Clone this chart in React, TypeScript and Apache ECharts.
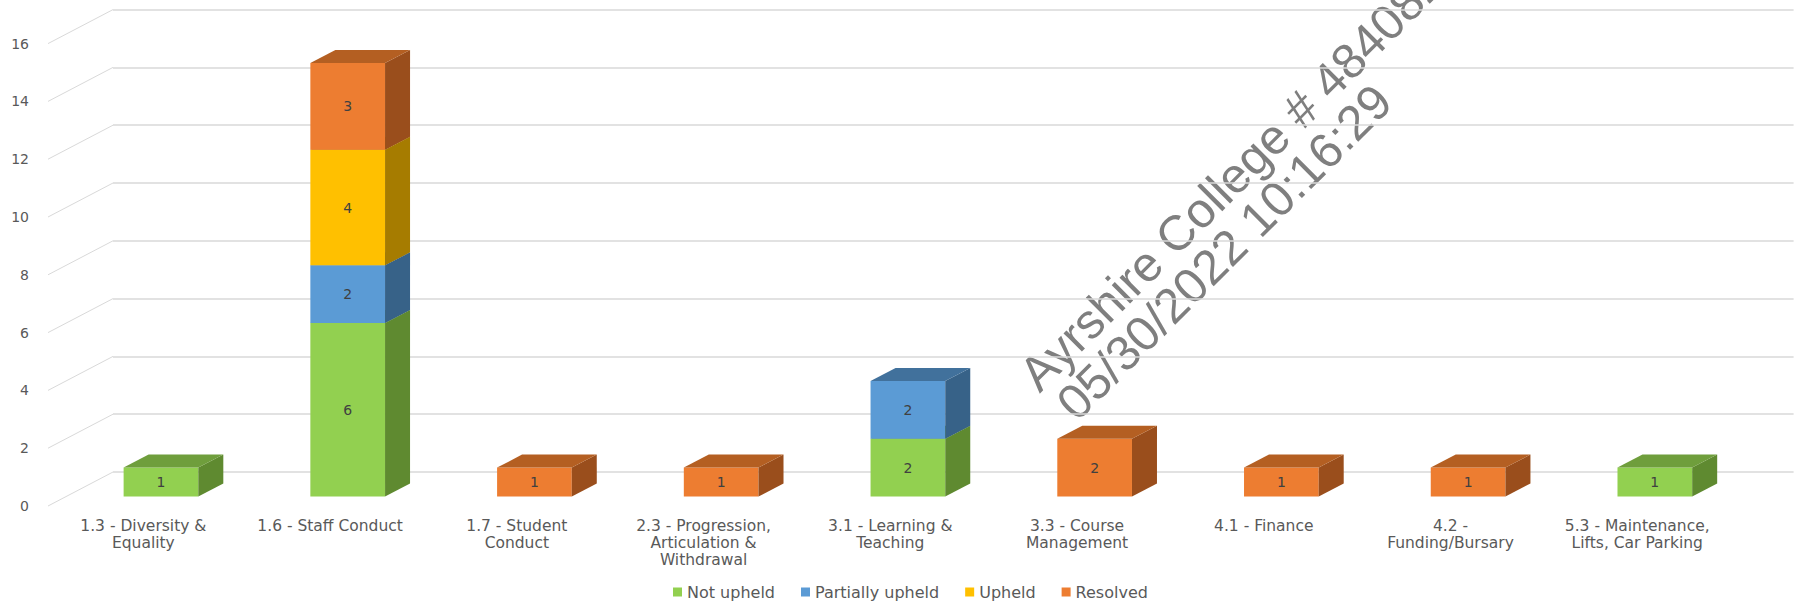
import React, { useEffect, useRef } from "react";
import * as echarts from "echarts";

// Complaint categories (line breaks follow the printed wrapping)
const categories = [
  "1.3 - Diversity &\nEquality",
  "1.6 - Staff Conduct",
  "1.7 - Student\nConduct",
  "2.3 - Progression,\nArticulation &\nWithdrawal",
  "3.1 - Learning &\nTeaching",
  "3.3 - Course\nManagement",
  "4.1 - Finance",
  "4.2 -\nFunding/Bursary",
  "5.3 - Maintenance,\nLifts, Car Parking",
];

const notUpheld = [1, 6, 0, 0, 2, 0, 0, 0, 1];
const partiallyUpheld = [0, 2, 0, 0, 2, 0, 0, 0, 0];
const upheld = [0, 4, 0, 0, 0, 0, 0, 0, 0];
const resolved = [0, 3, 1, 1, 0, 2, 1, 1, 0];

const yTicks = [0, 2, 4, 6, 8, 10, 12, 14, 16];

const watermarkLines = ["Ayrshire College # 484082", "05/30/2022 10:16:29"];

const FONT = "DejaVu Sans";
const WATERMARK_FONT = "Liberation Sans";
const GRID_LINE = "#d9d9d9";
const TEXT = "#595959";

// Oblique depth of the chart walls, in pixels
const WALL_DX = 63;
const WALL_DY = -34;
// Position of the bar front face inside the depth, and depth of each box
const FRONT_SHIFT_X = 17.6;
const FRONT_SHIFT_Y = -9.5;
const BOX_DX = 25;
const BOX_DY = -13;
const BAR_RATIO = 0.4;

type Palette = { front: string; side: string; top: string };

const seriesDefs: { name: string; values: number[]; palette: Palette }[] = [
  { name: "Not upheld", values: notUpheld, palette: { front: "#92D050", side: "#5F8A30", top: "#6F9E3C" } },
  { name: "Partially upheld", values: partiallyUpheld, palette: { front: "#5B9BD5", side: "#376288", top: "#41719C" } },
  { name: "Upheld", values: upheld, palette: { front: "#FFC000", side: "#A67C00", top: "#BF9000" } },
  { name: "Resolved", values: resolved, palette: { front: "#ED7D31", side: "#9A4E1C", top: "#B45F22" } },
];

function boxRenderer(palette: Palette) {
  return (_params: any, api: any) => {
    const idx = api.value(0);
    const base = api.value(1);
    const val = api.value(2);
    if (!val) return null;
    const p0 = api.coord([idx, base]);
    const p1 = api.coord([idx, base + val]);
    const band = api.size([1, 0])[0];
    const w = band * BAR_RATIO;
    const x1 = p0[0] - w / 2 + FRONT_SHIFT_X;
    const x2 = x1 + w;
    const yb = p0[1] + FRONT_SHIFT_Y;
    const yt = p1[1] + FRONT_SHIFT_Y;
    return {
      type: "group",
      children: [
        {
          type: "rect",
          shape: { x: x1, y: yt, width: w, height: yb - yt },
          style: { fill: palette.front },
        },
        {
          type: "polygon",
          shape: {
            points: [
              [x2, yb],
              [x2 + BOX_DX, yb + BOX_DY],
              [x2 + BOX_DX, yt + BOX_DY],
              [x2, yt],
            ],
          },
          style: { fill: palette.side },
        },
        {
          type: "polygon",
          shape: {
            points: [
              [x1, yt],
              [x2, yt],
              [x2 + BOX_DX, yt + BOX_DY],
              [x1 + BOX_DX, yt + BOX_DY],
            ],
          },
          style: { fill: palette.top },
        },
        {
          type: "text",
          style: {
            text: String(val),
            x: (x1 + x2) / 2,
            y: (yt + yb) / 2,
            align: "center",
            verticalAlign: "middle",
            fill: "#404040",
            fontSize: 14,
            fontFamily: FONT,
          },
        },
      ],
    };
  };
}

function wallRenderer(_params: any, api: any) {
  const p = api.coord([0, api.value(1)]);
  const band = api.size([1, 0])[0];
  const x = p[0] - band / 2;
  return {
    type: "line",
    shape: { x1: x - 2, y1: p[1], x2: x + WALL_DX, y2: p[1] + WALL_DY },
    style: { stroke: GRID_LINE, lineWidth: 1 },
  };
}

export default function App() {
  const ref = useRef<HTMLDivElement>(null);

  useEffect(() => {
    if (!ref.current) return;
    const chart = echarts.init(ref.current, undefined, { renderer: "svg" });

    const stackBase = categories.map(() => 0);
    const barSeries = seriesDefs.map((def) => {
      const data = def.values.map((v, i) => {
        const item = [i, stackBase[i], v];
        stackBase[i] += v;
        return item;
      });
      return {
        type: "custom",
        name: def.name,
        xAxisIndex: 0,
        yAxisIndex: 0,
        encode: { x: 0, y: 1 },
        itemStyle: { color: def.palette.front },
        renderItem: boxRenderer(def.palette),
        data,
        z: 3,
      };
    });

    chart.setOption({
      animation: false,
      backgroundColor: "#ffffff",
      textStyle: { fontFamily: FONT },
      legend: {
        data: seriesDefs.map((d) => d.name),
        left: 673,
        top: 584,
        padding: 0,
        icon: "rect",
        itemWidth: 9,
        itemHeight: 9,
        itemGap: 26,
        textStyle: { color: TEXT, fontSize: 16, fontFamily: FONT },
      },
      grid: [
        // front plane: axes, labels and bars
        { left: 50, right: 67.4, top: 43.6, bottom: 95 },
        // back wall: horizontal gridlines
        { left: 113, right: 4.4, top: 9.6, bottom: 129 },
      ],
      xAxis: [
        {
          type: "category",
          gridIndex: 0,
          data: categories,
          axisLine: { show: false },
          axisTick: { show: false },
          splitLine: { show: false },
          axisLabel: {
            interval: 0,
            margin: 11,
            color: TEXT,
            fontSize: 15.5,
            lineHeight: 17,
            fontFamily: FONT,
          },
        },
        { type: "value", gridIndex: 1, min: 0, max: 1, show: false },
      ],
      yAxis: [
        {
          type: "value",
          gridIndex: 0,
          min: 0,
          max: 16,
          interval: 2,
          axisLine: { show: false },
          axisTick: { show: false },
          splitLine: { show: false },
          axisLabel: { color: TEXT, fontSize: 14, margin: 21, fontFamily: FONT },
        },
        {
          type: "value",
          gridIndex: 1,
          min: 0,
          max: 16,
          interval: 2,
          axisLine: { show: false },
          axisTick: { show: false },
          axisLabel: { show: false },
          splitLine: { lineStyle: { color: GRID_LINE, width: 1.5 } },
        },
      ],
      series: [
        {
          type: "custom",
          name: "wall",
          xAxisIndex: 0,
          yAxisIndex: 0,
          encode: { x: 0, y: 1 },
          silent: true,
          renderItem: wallRenderer,
          data: yTicks.map((v) => [0, v]),
          z: 1,
        },
        ...barSeries,
      ],
      graphic: [
        {
          type: "group",
          x: 1038,
          y: 392,
          rotation: Math.PI / 4,
          silent: true,
          z: 100,
          children: watermarkLines.map((line, i) => ({
            type: "text",
            x: i * 6,
            y: 10 + i * 47,
            style: {
              text: line,
              fontSize: 49,
              fontFamily: WATERMARK_FONT,
              fill: "#7f7f7f",
              align: "left",
              verticalAlign: "bottom",
            },
          })),
        },
      ],
    });

    return () => chart.dispose();
  }, []);

  return (
    <div
      ref={ref}
      style={{ position: "absolute", left: 0, top: 0, width: 1798, height: 601 }}
    />
  );
}
